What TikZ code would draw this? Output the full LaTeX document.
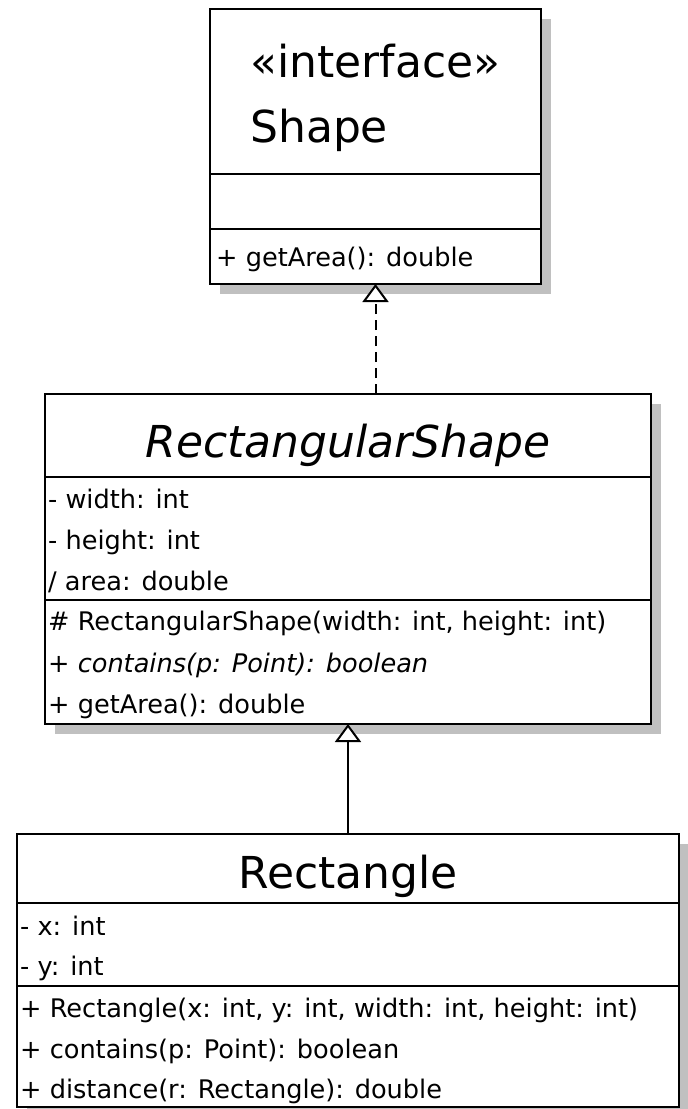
\documentclass[tikz,border=0pt]{standalone}
\usepackage{fontspec}
\setmainfont{DejaVu Sans}
\usetikzlibrary{arrows.meta}
\definecolor{shadowgray}{RGB}{192,192,192}
\begin{document}
\begin{tikzpicture}[x=1pt,y=-1pt,
  umlbox/.style={draw=black, line width=2.5pt, fill=white, inner sep=0pt, outer sep=0pt, rectangle},
  divider/.style={line width=2.5pt},
  shadowfill/.style={fill=shadowgray},
  member/.style={anchor=base west, inner sep=0pt, font=\fontsize{25.6}{30}\selectfont},
  title/.style={anchor=base, inner sep=0pt, font=\fontsize{44}{50}\selectfont},
  ltitle/.style={anchor=base west, inner sep=0pt, font=\fontsize{44}{50}\selectfont},
  realize/.style={line width=2pt, dash pattern=on 10pt off 6pt, -{Triangle[open, length=18pt, width=26pt, fill=white, line width=2pt]}},
  generalize/.style={line width=2pt, -{Triangle[open, length=18pt, width=26pt, fill=white, line width=2pt]}}
]
\useasboundingbox (0,0) rectangle (688,1109);
\fill[white] (0,0) rectangle (688,1109);
% shadows
\fill[shadowfill] (220,19) rectangle (551,294);
\fill[shadowfill] (55,404) rectangle (661,734);
\fill[shadowfill] (27,844) rectangle (689,1117);
% boxes
\node[umlbox, minimum width=331pt, minimum height=275pt] (shape) at (375.5,146.5) {};
\node[umlbox, minimum width=606pt, minimum height=330pt] (rshape) at (348,559) {};
\node[umlbox, minimum width=662pt, minimum height=273pt] (rect) at (348,970.5) {};
% dividers
\draw[divider] (210,174) -- (541,174);
\draw[divider] (210,229) -- (541,229);
\draw[divider] (45,477) -- (651,477);
\draw[divider] (45,600) -- (651,600);
\draw[divider] (17,903) -- (679,903);
\draw[divider] (17,986) -- (679,986);
% Shape texts
\node[ltitle] (s1) at (250,77) {«interface»};
\node[ltitle] (s2) at (250,142) {Shape};
\node[member] (s3) at (216,266) {+ getArea(): double};
% RectangularShape texts
\node[title] (r0) at (348,457) {\itshape RectangularShape};
\node[member] (r1) at (48,508) {- width: int};
\node[member] (r2) at (48,549) {- height: int};
\node[member] (r3) at (48,590) {/ area: double};
\node[member] (r4) at (48,630) {\# RectangularShape(width: int, height: int)};
\node[member] (r5) at (48,672) {\itshape + contains(p: Point): boolean};
\node[member] (r6) at (48,713) {+ getArea(): double};
% Rectangle texts
\node[title] (q0) at (348,888) {Rectangle};
\node[member] (q1) at (20,935) {- x: int};
\node[member] (q2) at (20,975) {- y: int};
\node[member] (q3) at (20,1017) {+ Rectangle(x: int, y: int, width: int, height: int)};
\node[member] (q4) at (20,1058) {+ contains(p: Point): boolean};
\node[member] (q5) at (20,1098) {+ distance(r: Rectangle): double};
% connectors
\draw[realize] (rshape.north -| shape.south) -- (shape.south);
\draw[generalize] (rect.north) -- (rshape.south);
\end{tikzpicture}
\end{document}
